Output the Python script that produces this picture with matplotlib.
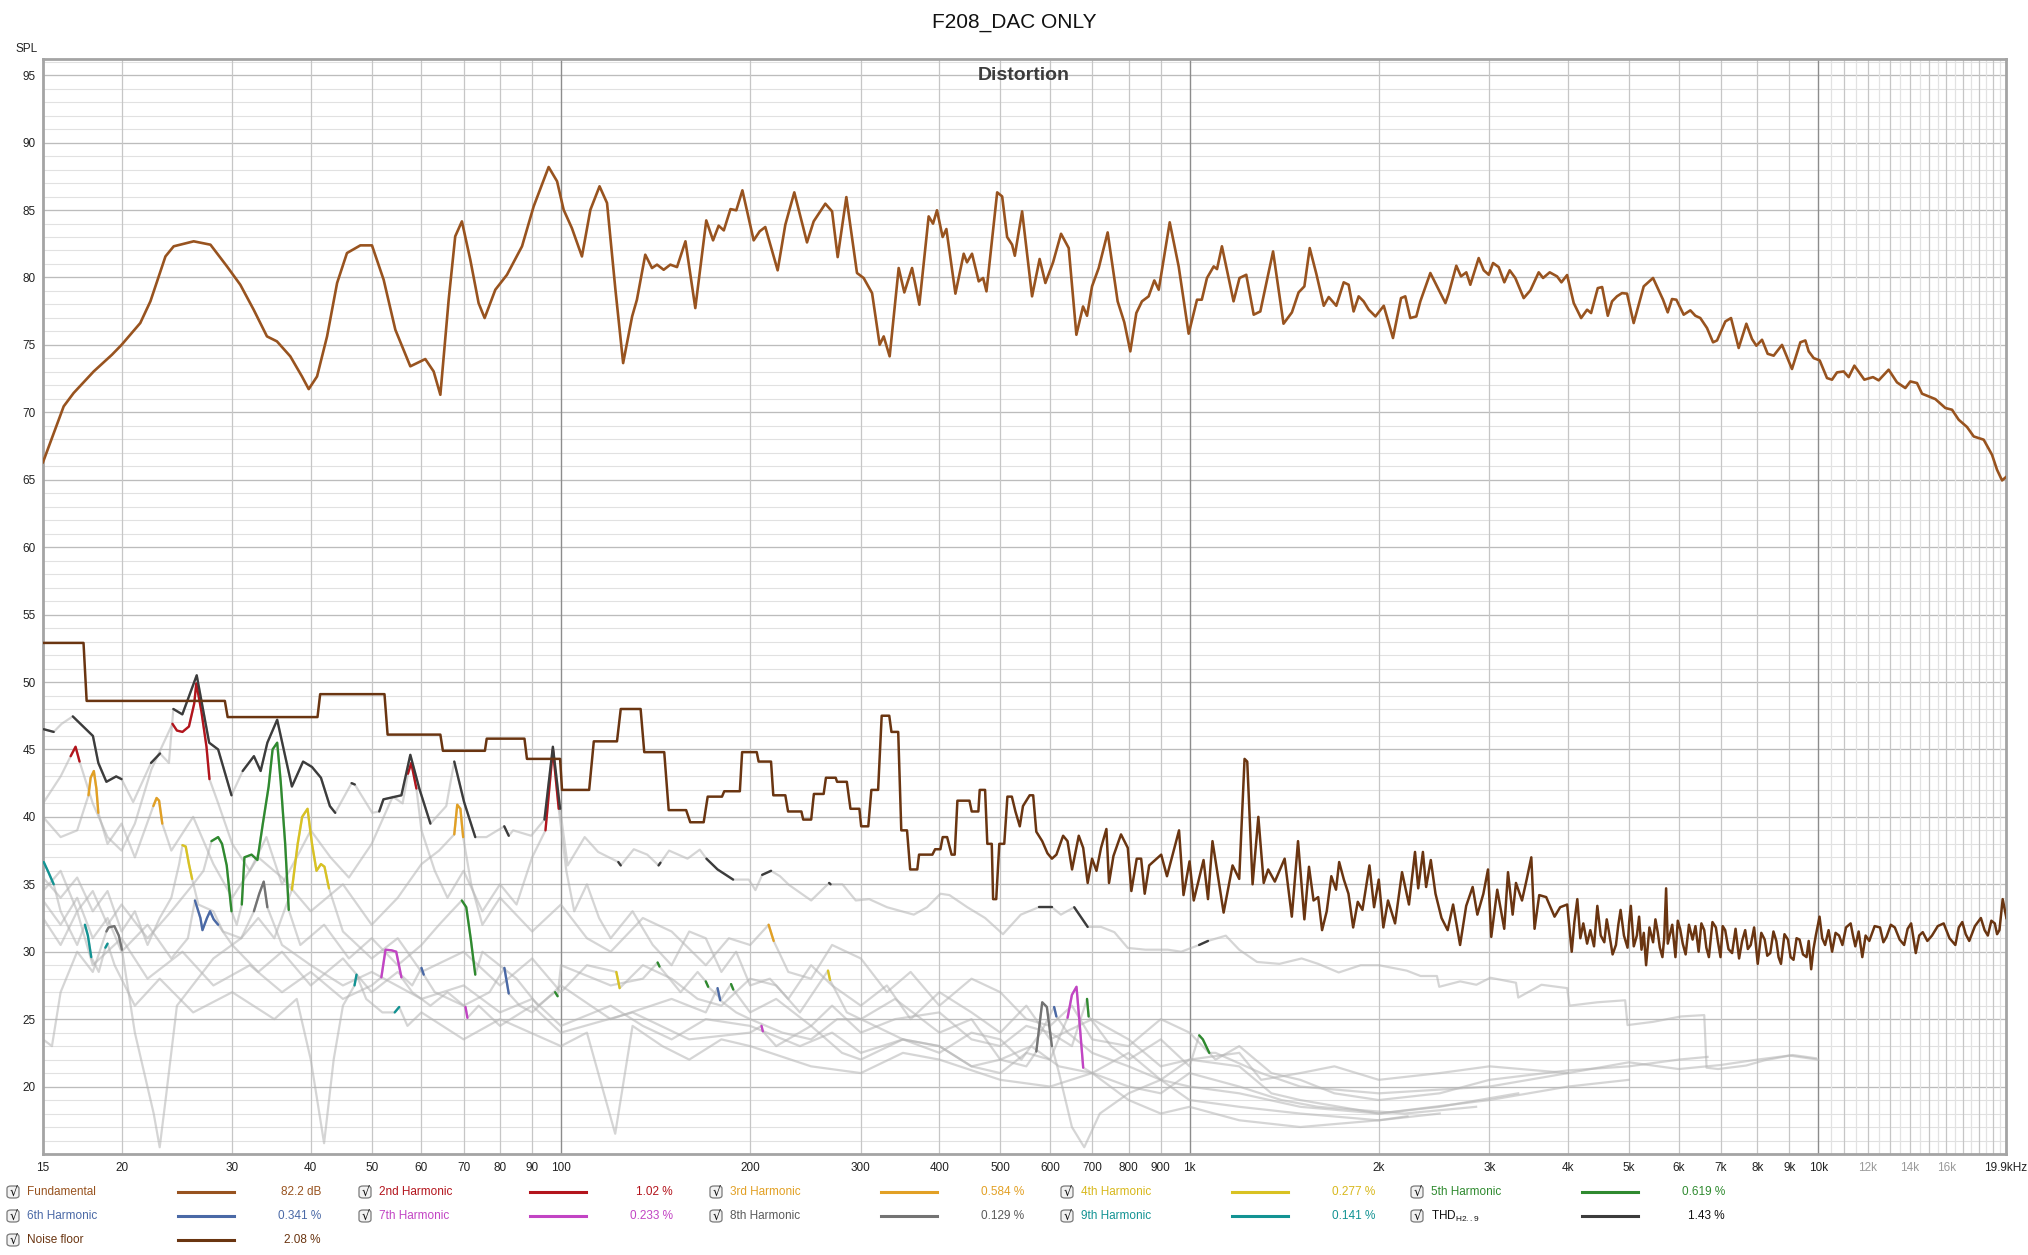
import numpy as np
import matplotlib
matplotlib.use('Agg')
import matplotlib.pyplot as plt
from matplotlib.patches import FancyBboxPatch

plt.rcParams['font.family'] = ['Liberation Sans Narrow', 'Liberation Sans', 'DejaVu Sans']

# ---------------- data ----------------
fund_f = [15.0, 16.18, 16.78, 18.06, 19.31, 20.0, 21.42, 22.23, 23.49, 24.21, 26.05, 27.70, 29.43, 30.9, 32.45,
          34.07, 35.34, 37.11, 38.73, 39.7, 40.93, 42.46, 44.05, 45.67, 47.97, 50.05,
          52.24, 54.53, 57.6, 60.85, 62.74, 64.3, 66.29, 67.9, 69.58, 71.75, 73.97, 75.62, 78.64, 82.07, 86.72,
          90.5, 95.6, 98.6, 101.0, 104.1, 108.0, 111.4, 115.2, 118.4, 122.1, 125.6, 129.8, 132.1, 136.2, 139.6,
          142.2, 145.7, 149.3, 153.0, 157.8, 163.6, 170.3, 174.6, 178.2, 181.6, 186.1, 190.1, 194.4, 202.6, 207.1,
          211.4, 221.2, 227.5, 235.1, 246.3, 252.4, 263.4, 270.0, 275.6, 284.5, 295.8, 303.1, 312.6, 321.4, 326.2,
          333.4, 344.6, 351.8, 361.9, 371.7, 384.6, 390.8, 396.5, 404.8, 410.4, 424.2, 437.3, 442.6, 450.8, 462.0,
          469.5, 475.3, 494.3, 503.4, 512.7, 522.1, 527.3, 541.6, 561.7, 577.5, 589.8, 606.6, 624.6, 642.4, 660.7,
          677.0, 687.0, 699.7, 717.0, 740.9, 768.5, 787.5, 805.0, 822.9, 840.1, 860.9, 879.0, 893.3, 930.0, 961.0,
          996.8, 1027.8, 1046, 1066, 1092.6, 1106, 1126, 1175, 1201, 1231, 1265, 1296, 1358, 1411, 1455, 1491,
          1523, 1553, 1591, 1635, 1665, 1712, 1759, 1791, 1824, 1858,
          1892, 1928, 1976, 2037, 2107, 2170, 2204, 2245, 2295, 2329, 2416, 2506, 2553, 2584, 2657, 2703, 2756,
          2797, 2884, 2938, 2992, 3040, 3103, 3168, 3231, 3298, 3401, 3485, 3593, 3651, 3741, 3843, 3905, 3987,
          4085, 4197, 4290, 4353, 4461, 4533, 4628, 4701, 4786, 4875, 4966, 5088, 5279, 5462, 5666, 5764, 5855,
          5949, 6111, 6262, 6378, 6495, 6656, 6805, 6905, 7119, 7268, 7475, 7688, 7849, 7975, 8142, 8312, 8497,
          8760, 9086, 9369, 9543, 9660, 9838, 10057, 10330, 10522, 10715, 10981, 11184, 11419, 11844, 12226,
          12483, 12946, 13349, 13762, 14017, 14364, 14631, 14992, 15363, 15936, 16331, 16734, 17253, 17680,
          18339, 18907, 19257, 19614, 19900]
fund_db = [66.3, 70.44, 71.43, 73.03, 74.27, 75.0, 76.62, 78.23, 81.56, 82.31, 82.68, 82.43, 80.82, 79.46, 77.61,
           75.63, 75.26, 74.15, 72.66, 71.72, 72.66, 75.63, 79.59, 81.81, 82.38, 82.38,
           79.83, 76.12, 73.41, 73.95, 73.03, 71.3, 78.35, 83.05, 84.16, 81.32, 78.1, 76.99, 79.09, 80.2, 82.31,
           85.27, 88.19, 87.13, 85.02, 83.66, 81.56, 85.02, 86.76, 85.52, 79.09, 73.65, 77.11, 78.35, 81.69, 80.7,
           80.95, 80.57, 80.95, 80.77, 82.68, 77.73, 84.23, 82.75, 83.84, 83.49, 85.07, 84.98, 86.46, 82.75, 83.42,
           83.74, 80.53, 83.91, 86.31, 82.6, 84.16, 85.47, 84.9, 81.51, 85.96, 80.33, 79.96, 78.84, 75.01, 75.63,
           74.15, 80.7, 78.89, 80.7, 77.98, 84.53, 83.99, 84.98, 83.0, 83.59, 78.8, 81.76, 81.12, 81.76, 79.71,
           79.96, 78.97, 86.31, 86.01, 83.0, 82.43, 81.61, 84.9, 78.6, 81.37, 79.59, 81.12, 83.24, 82.18, 75.75,
           77.85, 77.16, 79.34, 80.7, 83.34, 78.23, 76.67, 74.52, 77.36, 78.23, 78.6, 79.78, 79.09, 84.09, 80.82,
           75.83, 78.35, 78.35, 79.96, 80.82, 80.62, 82.31, 78.23, 79.96, 80.2, 77.24, 77.48, 81.93, 76.57, 77.41,
           78.89, 79.34, 82.18, 80.28, 77.9, 78.55, 77.9, 79.64, 79.46, 77.48, 78.6,
           78.23, 77.61, 77.11, 77.9, 75.51, 78.47, 78.6, 76.99, 77.11, 78.23, 80.33, 78.84, 78.1, 78.8, 80.87,
           80.08, 80.38, 79.46, 81.44, 80.53, 80.2, 81.07, 80.77, 79.64, 80.53, 79.96, 78.47, 79.04, 80.38, 79.96,
           80.38, 80.08, 79.64, 80.18, 78.1, 76.99, 77.61, 77.36, 79.21, 79.29, 77.16, 78.23, 78.6, 78.84, 78.8,
           76.62, 79.34, 79.96, 78.35, 77.41, 78.4, 78.35, 77.24, 77.56, 77.16, 76.99, 76.25, 75.19, 75.33, 76.74,
           76.99, 74.77, 76.57, 75.43, 74.94, 75.38, 74.34, 74.2, 75.0, 73.21, 75.19, 75.33, 74.52, 74.02, 73.85,
           72.54, 72.42, 72.96, 73.03, 72.61, 73.46, 72.42, 72.61, 72.37, 73.16, 72.22, 71.8, 72.29, 72.17, 71.38,
           71.18, 70.98, 70.32, 70.19, 69.45, 68.91, 68.21, 67.97, 66.85, 65.74, 64.95, 65.2]

nf_f = [15, 17.4, 17.6, 29.2, 29.5, 41.0, 41.4, 52.4, 53.0, 64.3, 64.9, 75.7, 76.2, 87.5, 88.3, 99.7, 100.4,
        110.9, 112.8, 122.8, 124.5, 133.9, 135.7, 146.0, 148.4, 158.2, 160.6, 168.7, 171.2, 180.4, 181.9, 192.6,
        194.2, 204.9, 206.3, 215.9, 217.7, 227.5, 229.8, 241.3, 242.9, 250.1, 252.6, 261.8, 264.0, 273.6, 275.0,
        285.0, 288.8, 298.4, 300.4, 308.3, 311.8, 319.6, 323.8, 332.9, 335.6, 344.0, 347.9, 355.3, 359.4, 368.9,
        371.3, 389.9, 393.8, 401.5, 404.9, 411.5, 418.3, 423.1, 427.3, 446.6, 450.3, 461.4, 463.7, 472.9, 476.8,
        484.6, 487.0, 492.6, 498.2, 507.3, 513.2, 521.6, 528.5, 537.0, 543.3, 556.8, 564.0, 570.5, 583.0, 594.3,
        604.1, 614.1, 629.4, 639.6, 650.3, 666.5, 677.4, 688.6, 699.8, 711.2, 723.1, 737.5, 744.6, 756.8, 778.0,
        797.6, 808.1, 824.1, 837.6, 848.6, 862.6, 901.4, 920.7, 962.3, 978.2, 1000, 1015.6, 1052.7, 1070, 1087.7,
        1133, 1170.7, 1199.6, 1223.3, 1235.4, 1259.8, 1286.7, 1312.2, 1333.8, 1366.8, 1416.8, 1454.5, 1488,
        1523, 1549, 1575, 1602, 1625, 1653, 1681, 1710, 1730, 1760, 1790, 1821, 1852, 1884, 1933, 1966, 2000,
        2034, 2069, 2123, 2178, 2234, 2284, 2311, 2351, 2379, 2420, 2462, 2517, 2574, 2626, 2694, 2755, 2821,
        2870, 2934, 2984, 3020, 3087, 3167, 3211, 3266, 3306, 3380, 3438, 3497, 3539, 3600, 3693, 3808, 3887,
        3988,
        4055, 4095, 4139, 4185, 4231, 4290, 4341, 4400, 4454, 4510,
        4569, 4610, 4648, 4710, 4768, 4810, 4850, 4910, 4975, 5005,
        5035, 5090, 5148, 5190, 5236, 5280, 5325, 5390, 5463, 5510,
        5557, 5600, 5653, 5690, 5730, 5765, 5799, 5860, 5929, 5980,
        6031, 6090, 6155, 6230, 6314, 6380, 6455, 6520, 6589, 6640,
        6702, 6790, 6876, 6930, 6994, 7050, 7114, 7200, 7297, 7390,
        7486, 7570, 7655, 7730, 7812, 7910, 8015, 8120, 8222, 8300,
        8392, 8490, 8580, 8650, 8727, 8840, 8953, 9040, 9138, 9240,
        9342, 9460, 9583, 9660, 9748, 9830, 9915, 10051, 10150, 10259,
        10390, 10524, 10660, 10796, 10930, 11075, 11265, 11360, 11459, 11600,
        11756, 11900, 12060, 12300, 12543, 12700, 12845, 13050, 13243, 13480,
        13703, 13880, 14058, 14180, 14299, 14480, 14669, 14920, 15176, 15500,
        15838, 16180, 16529, 16740, 16956, 17170, 17393, 17760, 18150, 18400,
        18619, 18860, 19099, 19260, 19427, 19660, 19930]
nf_db = [52.9, 52.9, 48.6, 48.6, 47.4, 47.4, 49.1, 49.1, 46.1, 46.1, 44.9, 44.9, 45.8, 45.8, 44.3, 44.3, 42.0,
         42.0, 45.6, 45.6, 48.0, 48.0, 44.8, 44.8, 40.5, 40.5, 39.6, 39.6, 41.5, 41.5, 41.9, 41.9,
         44.8, 44.8, 44.1, 44.1, 41.6, 41.6, 40.4, 40.4, 39.8, 39.8, 41.7, 41.7, 42.9, 42.9, 42.6,
         42.6, 40.6, 40.6, 39.3, 39.3, 42.0, 42.0, 47.5, 47.5, 46.3, 46.3, 39.0, 39.0, 36.1, 36.1,
         37.2, 37.2, 37.6, 37.6, 38.5, 38.5, 37.2, 37.2, 41.2, 41.2, 40.4, 40.4, 42.0, 42.0, 38.0,
         38.0, 33.9, 33.9, 38.0, 38.0, 41.5, 41.5, 40.4, 39.3, 40.8, 41.6, 41.6, 38.9, 38.2, 37.3,
         36.9, 37.2, 38.6, 38.2, 36.1, 38.6, 37.7, 35.1, 36.9, 36.0, 37.7, 39.1, 35.1, 37.1, 38.7,
         37.7, 34.5, 36.9, 36.9, 34.3, 36.4, 37.2, 35.6, 39.0, 34.2, 36.7, 33.8, 36.8, 33.9, 38.2,
         32.9, 36.4, 35.4, 44.3, 44.1, 35.0, 40.0, 35.1, 36.1, 35.2, 36.9, 32.6, 38.2,
         32.4, 36.3, 33.8, 34.05, 31.6, 33.0, 35.6, 34.6, 36.65, 35.35, 34.3, 31.8, 33.7, 33.1, 36.4, 33.3, 35.35,
         31.8, 33.8, 32.1, 35.9, 33.5, 37.4, 34.7, 37.4, 34.8, 36.8, 34.3, 32.5, 31.6, 33.5, 30.5, 33.4, 34.8,
         32.75, 34.3, 36.1, 31.1, 34.6, 31.7, 35.9, 32.75, 35.1, 33.8, 35.35, 37.0, 31.7, 34.2, 34.05, 32.6, 33.3,
         33.5,
         30.0, 32.2, 33.9, 31.0, 32.1, 30.6, 31.6, 30.4, 33.4, 31.2,
         30.7, 32.4, 31.45, 29.8, 30.5, 32.0, 33.1, 31.2, 30.3, 32.2,
         33.4, 30.4, 31.2, 32.6, 30.15, 31.4, 29.0, 31.8, 30.7, 32.4,
         31.45, 30.3, 29.6, 31.0, 34.7, 30.6, 31.1, 32.0, 29.6, 32.3,
         31.7, 30.6, 29.8, 32.0, 30.9, 31.9, 30.0, 32.1, 31.6, 30.3,
         29.6, 32.2, 31.8, 30.7, 29.6, 31.9, 31.6, 30.2, 29.9, 31.7,
         29.5, 30.8, 31.6, 30.2, 30.5, 31.8, 29.1, 31.4, 30.9, 29.7,
         29.9, 31.5, 30.8, 29.6, 29.1, 31.3, 30.9, 29.6, 29.4, 31.0,
         30.9, 29.8, 29.6, 30.8, 28.7, 30.2, 31.2, 32.6, 31.0, 30.5,
         31.6, 30.0, 31.4, 31.2, 30.5, 31.8, 32.1, 31.2, 30.4, 31.5,
         29.6, 31.2, 30.8, 31.9, 31.8, 30.7, 31.1, 32.0, 31.8, 30.9,
         30.5, 31.7, 32.1, 31.0, 29.9, 31.2, 31.45, 30.8, 31.2, 31.9,
         32.1, 31.0, 30.5, 31.8, 32.2, 31.3, 30.8, 31.9, 32.5, 31.6,
         31.2, 32.3, 32.1, 31.3, 31.6, 33.9, 32.5]

thd_f = [15.04, 15.6, 16.06, 16.73, 18.01, 18.37, 18.92, 19.61, 20.0, 20.87, 22.28, 23.03, 23.79, 24.18, 24.99,
         26.34, 27.57, 28.49, 29.92, 31.17, 32.48, 33.29, 34.12, 35.37, 36.42, 37.33, 38.89, 40.18, 41.52, 42.9,
         43.75, 46.45, 47.0, 50.1, 51.4, 52.2, 55.75, 57.6, 59.53, 62.0, 65.7, 67.66, 70.14, 73.07, 76.12, 81.26,
         82.6, 83.95, 89.67, 94.15, 97.1, 99.7, 102.5, 109.1, 114.6, 123.4, 124.5, 130.6, 137.2, 143.0, 144.0,
         148.6, 159.0, 166.3, 170.4, 177.5, 187.9, 199.0, 203.9, 209.0, 215.9, 223.1, 230.5, 250.1, 267.1, 268.5,
         280.4, 294.5, 309.3, 330.2, 364.2, 382.4, 401.6, 415, 443.1, 473.0, 504.9, 539, 575.4, 604.1, 624.2,
         655.5, 688.6, 723.1, 759.4, 797.6, 851.3, 923.6, 970, 1035.6, 1070, 1142.1, 1199.5, 1280.7, 1390, 1508,
         1602, 1727, 1872, 2000, 2215, 2331, 2475, 2496, 2694, 2860, 3009, 3306, 3334, 3630, 3988, 4022, 4454,
         4932, 4975, 5463, 6051, 6589, 6645, 6933, 7681, 8222, 9108, 9915]
thd_db = [46.5, 46.3, 46.9, 47.45, 46.0, 44.0, 42.6, 43.0, 42.8, 41.1, 44.0, 44.7, 44.0, 48.0, 47.6,
          50.5, 45.5, 45.0, 41.6, 43.4, 44.5, 43.4, 45.5, 47.2, 44.5, 42.25, 44.1, 43.7, 42.9, 40.8,
          40.3, 42.5, 42.4, 40.3, 40.4, 41.3, 41.6, 44.6, 42.1, 39.5, 40.8, 44.1, 41.1, 38.5, 38.5, 39.3,
          38.6, 39.0, 38.6, 39.8, 45.2, 40.6, 36.4, 38.5, 37.4, 36.65, 36.4, 37.6, 37.2, 36.4, 36.6,
          37.5, 36.9, 37.57, 36.9, 36.1, 35.35, 35.35, 34.57, 35.7, 36.0, 35.6, 34.96, 33.8, 35.1, 35.0,
          35.0, 33.8, 33.9, 33.3, 32.75, 33.3, 34.3, 34.2, 33.3, 32.5, 31.3, 32.75, 33.3, 33.3, 32.75,
          33.3, 31.84, 31.84, 31.45, 30.28, 30.15, 30.15, 30.0, 30.5, 30.8, 31.19, 30.15, 29.24, 29.1, 29.5,
          29.1, 28.46, 29.0, 29.0, 28.6, 28.2, 28.2, 27.4, 27.8, 27.55, 28.07, 27.7, 26.6, 27.55, 27.3, 26.0, 26.25,
          26.4, 24.56, 24.8, 25.2, 25.3, 21.4, 21.3, 21.56, 21.95, 22.34, 22.1]
thd_hl = [(15.0, 15.65), (16.5, 20.1), (22.2, 23.1), (24.1, 30.0), (31.1, 43.8), (46.4, 47.1), (51.4, 62.1),
          (67.6, 73.1), (81.2, 82.7), (94.1, 99.8), (123.3, 124.6), (142.9, 144.1), (170, 188), (208.9, 216),
          (267, 268.6), (575, 605), (655, 689), (1035, 1071)]

h2_f = [15, 16, 16.6, 16.9, 17.15, 18, 19, 20, 21, 22.3, 24.1, 24.5, 25.0, 25.6, 26.1, 26.3, 26.8, 27.3, 27.6,
        28.5, 30, 32, 34, 36, 38, 40, 43, 46, 50, 54, 56, 57.1, 57.8, 58.9, 60, 63, 66, 70, 75, 80, 85, 90, 94.5,
        97.1, 99.2, 102, 105, 110, 115, 120, 130, 140, 150, 160, 170, 180, 190, 200, 215, 230, 250, 270, 300, 330,
        360, 400, 450, 500, 550, 600, 700, 800, 900, 1000, 1200, 1300, 1500, 1700, 2000, 2500, 3000, 4000, 5000,
        6000, 7000, 8000, 9000, 10000]
h2_db = [41.0, 43.0, 44.5, 45.2, 44.1, 41.0, 38.5, 37.5, 39.5, 43.5, 46.9, 46.4, 46.3, 46.7, 48.4, 49.9, 47.8,
         45.2, 42.8, 41.0, 38.0, 36.0, 38.5, 35.0, 37.0, 39.0, 37.0, 35.5, 38.0, 41.5, 41.0, 43.2, 44.0, 42.1,
         39.0, 36.0, 34.0, 36.0, 33.0, 35.0, 33.5, 37.0, 39.0, 45.0, 40.6, 36.0, 33.0, 35.0, 32.5, 31.0, 33.0,
         30.5, 29.0, 31.5, 31.0, 28.5, 30.0, 27.5, 28.0, 26.5, 29.0, 27.5, 26.0, 27.5, 25.0, 27.0, 25.5, 24.0,
         26.0, 23.5, 25.0, 23.5, 21.5, 22.0, 22.5, 20.5, 21.0, 21.5, 20.5, 21.0, 21.5, 21.0, 21.8, 21.3, 21.6,
         22.0, 22.3, 22.0]
h2_hl = [(16.5, 17.2), (24.0, 27.7), (57.0, 59.0), (94.0, 99.5)]

h3_f = [15, 16, 17, 17.72, 17.86, 18.07, 18.24, 18.37, 19, 20, 21, 22.47, 22.74, 22.95, 23.22, 24, 26, 28, 30,
        33, 36, 40, 45, 50, 55, 60, 64, 67.66, 68.4, 69.2, 69.9, 72, 75, 80, 90, 100, 110, 120, 135, 150, 170,
        185, 200, 214, 218, 230, 250, 270, 300, 330, 360, 400, 450, 500, 550, 600, 650, 700, 800, 900, 1000,
        1100, 1200, 1350, 1500, 1700, 2000, 2500, 3000, 4000, 5000, 6000, 6670]
h3_db = [40.0, 38.5, 39.0, 41.6, 42.9, 43.4, 42.1, 40.3, 38.0, 39.5, 37.0, 40.8, 41.4, 41.2, 39.5, 37.5, 40.0,
         36.5, 34.0, 37.0, 35.5, 33.0, 35.0, 32.0, 34.0, 36.5, 37.5, 38.7, 40.9, 40.6, 38.5, 35.0, 32.0, 34.0,
         31.5, 33.5, 31.0, 30.0, 32.5, 31.5, 29.0, 31.0, 30.5, 32.0, 30.8, 28.5, 28.0, 30.5, 29.5, 27.0, 28.5,
         26.0, 28.0, 27.0, 25.0, 24.5, 26.0, 23.5, 23.0, 25.0, 24.0, 22.0, 23.0, 21.0, 20.5, 19.5, 19.0, 19.5,
         20.5, 21.2, 21.5, 22.0, 22.2]
h3_hl = [(17.7, 18.4), (22.4, 23.3), (67.6, 70.0), (213, 219)]

h4_f = [15, 16, 17, 18, 19, 20, 21, 22, 23, 24, 24.7, 25.0, 25.3, 25.6, 25.9, 26.5, 28, 29, 31, 33, 35, 37.33,
        38.13, 38.76, 39.53, 40.18, 40.85, 41.52, 42.06, 42.76, 45, 50, 55, 60, 70, 80, 90, 100, 110, 122.5, 124,
        135, 150, 165, 180, 200, 220, 240, 266, 268, 285, 300, 340, 400, 450, 500, 560, 620, 700, 800, 900, 1000,
        1200, 1500, 2000, 3000, 4000, 5000]
h4_db = [35.5, 34.0, 35.5, 33.0, 34.5, 31.5, 33.0, 30.5, 32.5, 34.0, 36.5, 37.9, 37.8, 36.5, 35.4, 33.5, 33.0,
         31.5, 31.0, 32.5, 31.0, 34.6, 38.0, 40.0, 40.6, 38.0, 36.0, 36.5, 36.3, 34.7, 31.5, 29.5, 31.0, 28.5,
         30.0, 27.5, 29.5, 27.0, 29.0, 28.5, 27.3, 29.0, 28.0, 26.5, 26.0, 28.0, 27.5, 25.5, 28.6, 27.9, 25.5,
         25.0, 26.5, 24.0, 25.0, 22.0, 23.0, 21.5, 21.0, 22.5, 20.5, 20.0, 19.5, 18.5, 18.0, 19.0, 20.0, 20.5]
h4_hl = [(24.9, 25.95), (37.3, 42.8), (122, 124.5), (265.5, 268.5)]

h5_f = [15, 16, 17, 18, 19, 20, 22, 24, 26, 27.0, 27.8, 28.49, 28.9, 29.4, 29.92, 30.5, 31.07, 31.37, 32.2, 32.9,
        33.56, 34.28, 34.78, 35.37, 35.83, 36.42, 36.9, 38.5, 42, 46, 50, 55, 60, 64, 67, 69.56, 70.7, 71.9,
        73.07, 75, 85, 92, 97.9, 98.8, 100, 120, 135, 142.5, 143.5, 155, 165, 170, 171.5, 180, 186.5, 188, 200,
        220, 250, 270, 300, 340, 400, 450, 500, 550, 600, 650, 687, 691, 710, 750, 800, 900, 1000, 1036, 1050,
        1075, 1100, 1300, 1500, 2000, 3000, 4000]
h5_db = [34.5, 36.0, 33.0, 34.5, 32.0, 33.5, 31.0, 33.0, 35.0, 36.0, 38.2, 38.5, 38.0, 36.4, 33.0, 32.0, 33.5,
         37.0, 37.2, 36.8, 39.5, 42.25, 45.0, 45.5, 42.6, 38.0, 33.1, 30.5, 32.0, 29.5, 31.0, 29.0, 30.5, 32.0,
         33.0, 33.8, 33.3, 30.9, 28.3, 30.0, 28.0, 26.0, 27.0, 26.7, 29.0, 27.5, 28.0, 29.2, 28.9, 27.0, 28.5,
         27.8, 27.4, 26.5, 27.6, 27.2, 25.5, 26.5, 24.5, 26.0, 24.0, 25.0, 25.5, 23.5, 23.0, 24.5, 24.0, 23.0,
         26.5, 25.2, 24.5, 23.0, 22.0, 23.5, 21.5, 23.8, 23.5, 22.5, 22.5, 21.0, 20.0, 19.5, 20.0, 21.0]
h5_hl = [(27.7, 30.0), (31.0, 37.0), (69.5, 73.1), (97.5, 99.0), (142, 144), (169.5, 172), (186, 188.5),
         (686, 692), (1035, 1076)]

h6_f = [15, 16, 17, 18, 19, 20, 22, 24, 25.5, 26.17, 26.7, 26.9, 27.35, 27.66, 28.03, 28.49, 30, 33, 36, 40, 45,
        50, 55, 58, 60.0, 60.5, 63, 70, 77, 81.3, 82.6, 86, 90, 100, 120, 150, 170, 177.5, 179.2, 190, 200, 225,
        250, 275, 300, 350, 400, 450, 500, 540, 580, 609, 614, 640, 700, 800, 900, 1000, 1200, 1350, 1500, 2000,
        2500, 3333]
h6_db = [33.8, 32.0, 34.0, 31.0, 32.5, 30.0, 32.0, 29.5, 31.0, 33.8, 32.5, 31.6, 32.5, 33.0, 32.4, 32.0, 30.5,
         28.5, 30.0, 27.5, 29.5, 27.0, 28.5, 27.5, 28.8, 28.3, 27.0, 26.0, 27.0, 28.8, 26.9, 26.0, 25.5, 27.5,
         25.0, 26.5, 25.5, 27.3, 26.4, 25.5, 25.0, 24.0, 23.5, 25.0, 25.0, 23.5, 22.5, 24.0, 23.5, 22.0, 24.0,
         25.9, 25.2, 24.0, 22.5, 21.5, 20.5, 22.0, 21.5, 19.5, 19.0, 18.0, 18.5, 19.5]
h6_hl = [(26.1, 28.5), (59.9, 60.6), (81.2, 82.7), (177, 180), (608, 615)]

h7_f = [15, 16, 17, 18, 20, 22, 25, 28, 32, 36, 40, 45, 50, 51.8, 52.6, 53.8, 54.7, 55.75, 58, 62, 66, 70.5,
        71.0, 74, 80, 90, 100, 130, 160, 200, 208.5, 209.5, 220, 250, 280, 300, 350, 400, 450, 500, 550, 600,
        639.7, 650, 661, 668, 677.4, 700, 800, 900, 1000, 1200, 1400, 1600, 2200, 2857]
h7_db = [32.5, 30.5, 33.0, 29.0, 31.0, 28.0, 30.0, 27.5, 29.0, 27.0, 28.5, 26.5, 27.5, 28.1, 30.15, 30.1, 30.0,
         28.1, 27.0, 26.0, 27.0, 25.9, 25.1, 26.0, 24.5, 26.0, 24.0, 25.5, 23.5, 24.0, 24.5, 24.1, 23.0, 24.5,
         22.5, 22.0, 23.5, 23.0, 21.5, 21.0, 22.5, 22.0, 25.1, 26.8, 27.4, 24.9, 21.4, 21.0, 20.0, 19.5, 21.0,
         20.0, 19.0, 18.5, 18.0, 18.5]
h7_hl = [(51.7, 55.8), (70.4, 71.1), (208, 210), (639, 678)]

h8_f = [15, 15.5, 16, 17, 18, 18.92, 19.07, 19.48, 19.8, 20.03, 21, 22.5, 23.0, 23.5, 24.5, 28, 31, 32.48, 33.12,
        33.67, 34.12, 36, 40, 45, 50, 60, 70, 80, 90, 100, 120, 135, 150, 170, 200, 240, 270, 300, 350, 400, 450,
        500, 550, 570.5, 583, 593, 604, 620, 650, 680, 720, 800, 900, 1000, 1200, 1500, 2000, 2500]
h8_db = [23.5, 23.0, 27.0, 30.0, 28.5, 31.5, 31.8, 31.9, 31.2, 30.15, 24.0, 18.0, 15.5, 19.0, 26.0, 29.5, 31.0,
         33.0, 34.3, 35.2, 33.3, 30.5, 29.0, 27.5, 28.5, 26.5, 27.5, 25.5, 26.5, 24.5, 26.0, 24.5, 23.5, 25.0,
         24.5, 23.0, 24.0, 22.5, 23.5, 23.0, 21.5, 22.0, 21.5, 22.6, 26.25, 25.9, 23.0, 21.0, 17.0, 15.5, 18.0,
         19.5, 20.5, 19.0, 18.5, 18.0, 17.5, 18.0]
h8_hl = [(18.9, 20.05), (32.4, 34.2), (570, 605)]

h9_f = [15.04, 15.3, 15.6, 16, 17, 17.49, 17.68, 17.9, 18.4, 18.85, 19.0, 19.5, 21, 23, 26, 30, 35, 38, 40, 42,
        43.5, 45, 46.95, 47.3, 49, 52, 54.4, 55.3, 57, 60, 70, 80, 100, 110, 122, 130, 145, 160, 180, 200, 250,
        300, 350, 400, 500, 600, 700, 800, 900, 1000, 1200, 1500, 2000, 2222]
h9_db = [36.65, 35.9, 35.0, 33.0, 30.5, 32.0, 31.2, 29.6, 28.5, 30.3, 30.6, 29.0, 26.0, 28.0, 25.5, 27.0, 25.0,
         26.5, 22.0, 15.8, 22.0, 26.0, 27.5, 28.3, 26.5, 25.5, 25.5, 25.9, 24.5, 25.5, 23.5, 25.0, 23.0, 24.0,
         16.5, 24.5, 23.0, 22.0, 23.5, 23.0, 21.5, 21.0, 22.5, 22.0, 20.5, 20.0, 21.0, 19.0, 18.0, 18.5, 17.5,
         17.0, 17.5, 17.8]
h9_hl = [(15.0, 15.65), (17.45, 17.95), (18.8, 19.05), (46.9, 47.4), (54.3, 55.4)]

legend_names = ['Fundamental', '2nd Harmonic', '3rd Harmonic', '4th Harmonic', '5th Harmonic',
                '6th Harmonic', '7th Harmonic', '8th Harmonic', '9th Harmonic', 'THD$_{\\mathregular{H2..9}}$',
                'Noise floor']
legend_values = ['82.2 dB', '1.02 %', '0.584 %', '0.277 %', '0.619 %',
                 '0.341 %', '0.233 %', '0.129 %', '0.141 %', '1.43 %', '2.08 %']

x_ticks = [15, 20, 30, 40, 50, 60, 70, 80, 90, 100, 200, 300, 400, 500, 600, 700, 800, 900, 1000,
           2000, 3000, 4000, 5000, 6000, 7000, 8000, 9000, 10000, 12000, 14000, 16000, 19900]
x_labels = ['15', '20', '30', '40', '50', '60', '70', '80', '90', '100', '200', '300', '400', '500', '600',
            '700', '800', '900', '1k', '2k', '3k', '4k', '5k', '6k', '7k', '8k', '9k', '10k', '12k', '14k',
            '16k', '19.9kHz']
y_ticks = list(range(20, 96, 5))

# colours
c_fund = '#98531f'
c_nf = '#6a3511'
c_h = ['#b3141c', '#e2a024', '#d9c222', '#2f8a2f', '#4a69a6', '#c244c4', '#737373', '#129393']
c_thd = '#3c3c3c'
c_gray = '#b4b4b4'

# ---------------- figure ----------------
W, H = 2028, 1255
fig = plt.figure(figsize=(W / 100, H / 100), dpi=100)
fig.patch.set_facecolor('white')
ax = fig.add_axes([43 / W, 1 - 1154 / H, (2006 - 43) / W, (1154 - 59) / H])
ax.set_xscale('log')
ax.set_xlim(15, 19900)
ax.set_ylim(15, 96.2)

# grid
for v in range(16, 97):
    ax.axhline(v, color='#e1e1e1', lw=0.8, zorder=0)
for v in y_ticks:
    ax.axhline(v, color='#bcbcbc', lw=0.9, zorder=0)
for dec in (10, 100, 1000):
    for m in range(2, 10):
        ax.axvline(m * dec, color='#c6c6c6', lw=0.9, zorder=0)
for f in range(10500, 20000, 500):
    ax.axvline(f, color='#c6c6c6' if f % 1000 == 0 else '#e2e2e2', lw=0.9, zorder=0)
for f in (100, 1000, 10000):
    ax.axvline(f, color='#8c8c8c', lw=1.0, zorder=0)

# gray harmonic traces
harm = [(h2_f, h2_db, h2_hl), (h3_f, h3_db, h3_hl), (h4_f, h4_db, h4_hl), (h5_f, h5_db, h5_hl),
        (h6_f, h6_db, h6_hl), (h7_f, h7_db, h7_hl), (h8_f, h8_db, h8_hl), (h9_f, h9_db, h9_hl)]
for f, d, _ in harm:
    ax.plot(f, d, color=c_gray, lw=1.6, alpha=0.55, zorder=1)
ax.plot(thd_f, thd_db, color=c_gray, lw=1.6, alpha=0.55, zorder=1)


def highlight(f, d, ranges, color):
    f = np.asarray(f)
    d = np.asarray(d)
    for lo, hi in ranges:
        m = (f >= lo) & (f <= hi)
        ax.plot(f[m], d[m], color=color, lw=1.7, zorder=3, solid_capstyle='round')


for (f, d, hl), col in zip(harm, c_h):
    highlight(f, d, hl, col)
highlight(thd_f, thd_db, thd_hl, c_thd)

ax.plot(nf_f, nf_db, color=c_nf, lw=1.8, zorder=4)
ax.plot(fund_f, fund_db, color=c_fund, lw=1.9, zorder=5)

# axes styling
ax.set_xticks(x_ticks)
ax.set_xticklabels(x_labels)
ax.minorticks_off()
ax.set_yticks(y_ticks)
ax.tick_params(axis='both', length=0, labelsize=8.5, colors='#222222')
ax.tick_params(axis='x', pad=6)
ax.tick_params(axis='y', pad=5)
for lab in ax.get_xticklabels():
    if lab.get_text() in ('12k', '14k', '16k'):
        lab.set_color('#9a9a9a')
for sp in ax.spines.values():
    sp.set_color('#a4a4a4')
    sp.set_linewidth(2.0)

# titles
fig.text(1014 / W, 1 - 22 / H, 'F208_DAC ONLY', ha='center', va='center', fontsize=15, color='#111111',
         family=['Liberation Sans', 'DejaVu Sans'])
fig.text(1024 / W, 1 - 76 / H, 'Distortion', ha='center', va='center', fontsize=14, fontweight='bold',
         color='#3c3c3c', family=['Liberation Sans', 'DejaVu Sans'])
fig.text(16 / W, 1 - 49 / H, 'SPL', ha='left', va='center', fontsize=8.5, color='#222222')

# legend
box_left = [7, 359, 710, 1061, 1411]
row_y = [1192, 1216, 1240]
leg_cols = [c_fund] + c_h[:4] + c_h[4:] + [c_thd, c_nf]
text_cols = [c_fund, c_h[0], c_h[1], '#d8b81c', c_h[3], c_h[4], c_h[5], '#5a5a5a', c_h[7], '#111111', c_nf]
for i, (name, val) in enumerate(zip(legend_names, legend_values)):
    bx = box_left[i % 5]
    by = row_y[i // 5]
    fig.patches.append(FancyBboxPatch((bx / W, 1 - (by + 6) / H), 12 / W, 12 / H,
                                      boxstyle='round,pad=0,rounding_size=0.002',
                                      transform=fig.transFigure, facecolor='#f2f2f2',
                                      edgecolor='#7a7a7a', lw=0.9))
    fig.text((bx + 6.5) / W, 1 - (by + 0.5) / H, '\u221a', ha='center', va='center', fontsize=9,
             color='#111111', family=['DejaVu Sans'])
    fig.text((bx + 20) / W, 1 - by / H, name, ha='left', va='center', fontsize=8.5, color=text_cols[i])
    fig.add_artist(plt.Line2D([(bx + 171) / W, (bx + 227) / W], [1 - by / H, 1 - by / H],
                              color=leg_cols[i], lw=2.2, transform=fig.transFigure))
    fig.text((bx + 314) / W, 1 - by / H, val, ha='right', va='center', fontsize=8.5, color=text_cols[i])

fig.savefig('out.png', dpi=100, facecolor='white')
